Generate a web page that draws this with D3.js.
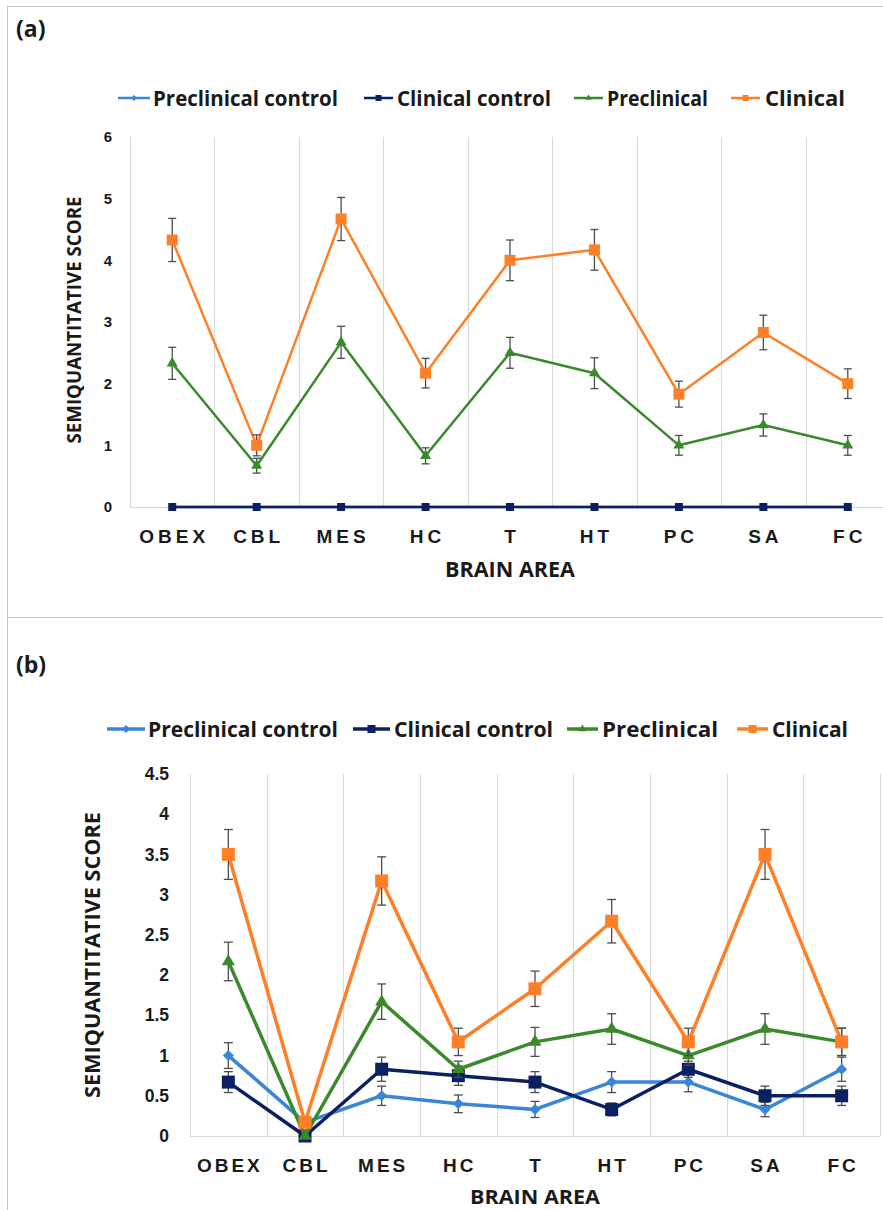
<!DOCTYPE html>
<html>
<head>
<meta charset="utf-8">
<script src="https://cdn.jsdelivr.net/npm/d3@7"></script>
<style>
  body { margin: 0; background: #fff; }
  svg { display: block; font-family: "Open Sans", "DejaVu Sans", sans-serif; font-weight: bold; }
</style>
</head>
<body>
<svg id="fig" width="883" height="1210"></svg>
<script>
// brain areas on the x axis (same for both panels)
var areas = ["OBEX", "CBL", "MES", "HC", "T", "HT", "PC", "SA", "FC"];
var seriesNames = ["Preclinical control", "Clinical control", "Preclinical", "Clinical"];
var seriesColors = ["#3a86d6", "#0b2062", "#3a8a2c", "#ff7f27"];

// panel (a)
var aPreclinicalControl    = [0, 0, 0, 0, 0, 0, 0, 0, 0];
var aPreclinicalControlErr = [0, 0, 0, 0, 0, 0, 0, 0, 0];
var aClinicalControl       = [0, 0, 0, 0, 0, 0, 0, 0, 0];
var aClinicalControlErr    = [0, 0, 0, 0, 0, 0, 0, 0, 0];
var aPreclinical           = [2.33, 0.67, 2.67, 0.83, 2.5, 2.17, 1.0, 1.33, 1.0];
var aPreclinicalErr        = [0.26, 0.12, 0.26, 0.13, 0.25, 0.25, 0.16, 0.18, 0.16];
var aClinical              = [4.33, 1.0, 4.67, 2.17, 4.0, 4.17, 1.83, 2.83, 2.0];
var aClinicalErr           = [0.35, 0.17, 0.35, 0.24, 0.33, 0.33, 0.21, 0.28, 0.24];
var aTicks = [0, 1, 2, 3, 4, 5, 6];

// panel (b)
var bPreclinicalControl    = [1.0, 0.17, 0.5, 0.4, 0.33, 0.67, 0.67, 0.33, 0.83];
var bPreclinicalControlErr = [0.16, 0.05, 0.12, 0.11, 0.1, 0.13, 0.12, 0.09, 0.15];
var bClinicalControl       = [0.67, 0, 0.83, 0.75, 0.67, 0.33, 0.83, 0.5, 0.5];
var bClinicalControlErr    = [0.13, 0, 0.15, 0.12, 0.13, 0.08, 0.1, 0.12, 0.12];
var bPreclinical           = [2.17, 0, 1.67, 0.83, 1.17, 1.33, 1.0, 1.33, 1.17];
var bPreclinicalErr        = [0.24, 0, 0.22, 0.1, 0.18, 0.19, 0.12, 0.19, 0.17];
var bClinical              = [3.5, 0.17, 3.17, 1.17, 1.83, 2.67, 1.17, 3.5, 1.17];
var bClinicalErr           = [0.31, 0.05, 0.3, 0.17, 0.22, 0.27, 0.17, 0.31, 0.17];
var bTicks = [0, 0.5, 1, 1.5, 2, 2.5, 3, 3.5, 4, 4.5];

var svg = d3.select("#fig");

// frame lines round the two panels
svg.append("line").attr("x1", 7).attr("x2", 883).attr("y1", 6.5).attr("y2", 6.5).attr("stroke", "#c6c6c6");
svg.append("line").attr("x1", 7.5).attr("x2", 7.5).attr("y1", 6).attr("y2", 1210).attr("stroke", "#c6c6c6");
svg.append("line").attr("x1", 7).attr("x2", 883).attr("y1", 617.5).attr("y2", 617.5).attr("stroke", "#c6c6c6");

function markerPath(shape, size) {
  if (shape === "diamond") return d3.symbol().type(d3.symbolSquare).size(size * size / 2)();
  if (shape === "triangle") return d3.symbol().type(d3.symbolTriangle).size(Math.sqrt(3) / 4 * size * size)();
  return d3.symbol().type(d3.symbolSquare).size(size * size)();
}

function drawPanel(p) {
  var g = svg.append("g");
  var x = d3.scaleBand().domain(areas).range([p.left, p.right]);
  var y = d3.scaleLinear().domain([0, p.yMax]).range([p.bottom, p.top]);
  var cx = function (a) { return x(a) + x.bandwidth() / 2; };

  // panel letter
  g.append("text").attr("x", p.labelX).attr("y", p.labelY)
    .style("font-size", p.labelFont + "px").attr("fill", "#1a1a1a").text(p.label);

  // vertical gridlines on category boundaries
  var bounds = areas.map(function (a) { return x(a); }).concat([p.right]);
  g.selectAll(".grid").data(bounds).enter().append("line")
    .attr("x1", function (d) { return Math.round(d) + 0.5; })
    .attr("x2", function (d) { return Math.round(d) + 0.5; })
    .attr("y1", p.top).attr("y2", p.bottom)
    .attr("stroke", "#d9d9d9").attr("stroke-width", 1);
  g.append("line").attr("x1", p.left).attr("x2", p.right)
    .attr("y1", p.bottom + 0.5).attr("y2", p.bottom + 0.5)
    .attr("stroke", "#d9d9d9");

  // y axis
  var yAxis = d3.axisLeft(y).tickValues(p.ticks).tickFormat(d3.format("~g"))
    .tickSize(0).tickPadding(p.left - p.tickRight);
  g.append("g").attr("transform", "translate(" + p.left + ",0)").call(yAxis)
    .call(function (s) { s.select(".domain").remove(); })
    .selectAll("text").style("font-size", p.tickFont + "px")
    .style("font-family", "inherit").attr("fill", "#1a1a1a");

  // x axis labels
  var xAxis = d3.axisBottom(x).tickSize(0).tickPadding(0);
  g.append("g").attr("transform", "translate(0," + p.xLabelY + ")").call(xAxis)
    .call(function (s) { s.select(".domain").remove(); })
    .selectAll("text").attr("dy", 0).attr("dx", p.xLetter / 2)
    .style("font-size", p.xFont + "px").style("font-family", "inherit")
    .style("letter-spacing", p.xLetter + "px").attr("fill", "#1a1a1a");

  // axis titles
  g.append("text").attr("x", (p.left + p.right) / 2).attr("y", p.xTitleY)
    .attr("text-anchor", "middle").style("font-size", p.xTitleFont + "px")
    .attr("textLength", p.xTitleLen).attr("lengthAdjust", "spacingAndGlyphs")
    .attr("fill", "#1a1a1a").text("BRAIN AREA");
  g.append("text")
    .attr("transform", "translate(" + p.yTitleX + "," + p.yTitleY + ") rotate(-90)")
    .attr("text-anchor", "middle").attr("dy", "0.35em")
    .style("font-size", p.yTitleFont + "px")
    .attr("textLength", p.yTitleLen).attr("lengthAdjust", "spacingAndGlyphs")
    .attr("fill", "#1a1a1a").text("SEMIQUANTITATIVE SCORE");

  // series: line, error bars, markers
  var line = d3.line().x(function (d, i) { return cx(areas[i]); }).y(function (d) { return y(d); });
  p.series.forEach(function (s, k) {
    var sg = g.append("g");
    sg.append("path").datum(s.values).attr("d", line)
      .attr("fill", "none").attr("stroke", seriesColors[k])
      .attr("stroke-width", p.lineWidth).attr("stroke-linejoin", "round");
    var eb = sg.selectAll(".err").data(s.values.map(function (v, i) { return { a: areas[i], v: v, e: s.err[i] }; })
      .filter(function (d) { return d.e > 0; }))
      .enter().append("g").attr("stroke", "#4d4d4d").attr("stroke-width", 1.3);
    eb.append("line").attr("x1", function (d) { return cx(d.a); }).attr("x2", function (d) { return cx(d.a); })
      .attr("y1", function (d) { return y(d.v + d.e); }).attr("y2", function (d) { return y(d.v - d.e); });
    [1, -1].forEach(function (sgn) {
      eb.append("line").attr("x1", function (d) { return cx(d.a) - p.cap; }).attr("x2", function (d) { return cx(d.a) + p.cap; })
        .attr("y1", function (d) { return y(d.v + sgn * d.e); }).attr("y2", function (d) { return y(d.v + sgn * d.e); });
    });
    sg.selectAll(".mk").data(s.values).enter().append("path")
      .attr("d", markerPath(s.shape, s.size))
      .attr("transform", function (d, i) {
        return "translate(" + cx(areas[i]) + "," + y(d) + ")" + (s.shape === "diamond" ? " rotate(45)" : "");
      })
      .attr("fill", seriesColors[k]);
  });

  // legend
  p.legend.forEach(function (L, k) {
    var s = p.series[k];
    g.append("line").attr("x1", L[0]).attr("x2", L[1]).attr("y1", p.legendY).attr("y2", p.legendY)
      .attr("stroke", seriesColors[k]).attr("stroke-width", p.lineWidth);
    g.append("path").attr("d", markerPath(s.shape, p.legendMarker))
      .attr("transform", "translate(" + (L[0] + L[1]) / 2 + "," + p.legendY + ")" + (s.shape === "diamond" ? " rotate(45)" : ""))
      .attr("fill", seriesColors[k]);
    g.append("text").attr("x", L[2]).attr("y", p.legendY + p.legendFont * 0.36)
      .style("font-size", p.legendFont + "px")
      .attr("textLength", L[3]).attr("lengthAdjust", "spacingAndGlyphs")
      .attr("fill", "#1a1a1a").text(seriesNames[k]);
  });
}

drawPanel({
  label: "(a)", labelX: 16, labelY: 37, labelFont: 23,
  left: 130, right: 890, top: 137, bottom: 507, yMax: 6, ticks: aTicks,
  tickRight: 112, tickFont: 15,
  xLabelY: 543, xFont: 19, xLetter: 4,
  xTitleY: 577, xTitleFont: 21, xTitleLen: 130,
  yTitleX: 74, yTitleY: 320, yTitleFont: 20, yTitleLen: 247,
  lineWidth: 2.5, cap: 4,
  legendY: 98, legendFont: 22, legendMarker: 6,
  legend: [[118, 150, 153, 185], [364, 393, 397, 154], [574, 603, 607, 101], [731, 760, 765, 80]],
  series: [
    { values: aPreclinicalControl, err: aPreclinicalControlErr, shape: "diamond", size: 8 },
    { values: aClinicalControl, err: aClinicalControlErr, shape: "square", size: 8 },
    { values: aPreclinical, err: aPreclinicalErr, shape: "triangle", size: 11 },
    { values: aClinical, err: aClinicalErr, shape: "square", size: 11 }
  ]
});

drawPanel({
  label: "(b)", labelX: 16, labelY: 673, labelFont: 23,
  left: 190, right: 880, top: 774, bottom: 1136, yMax: 4.5, ticks: bTicks,
  tickRight: 169, tickFont: 17.5,
  xLabelY: 1172, xFont: 19, xLetter: 3,
  xTitleY: 1204, xTitleFont: 20, xTitleLen: 130,
  yTitleX: 92, yTitleY: 955, yTitleFont: 22, yTitleLen: 286,
  lineWidth: 3.5, cap: 4.5,
  legendY: 729, legendFont: 21, legendMarker: 8,
  legend: [[107, 145, 148, 190], [353, 390, 394, 159], [567, 598, 602, 116], [737, 768, 772, 76]],
  series: [
    { values: bPreclinicalControl, err: bPreclinicalControlErr, shape: "diamond", size: 11 },
    { values: bClinicalControl, err: bClinicalControlErr, shape: "square", size: 13 },
    { values: bPreclinical, err: bPreclinicalErr, shape: "triangle", size: 13 },
    { values: bClinical, err: bClinicalErr, shape: "square", size: 13 }
  ]
});
</script>
</body>
</html>
